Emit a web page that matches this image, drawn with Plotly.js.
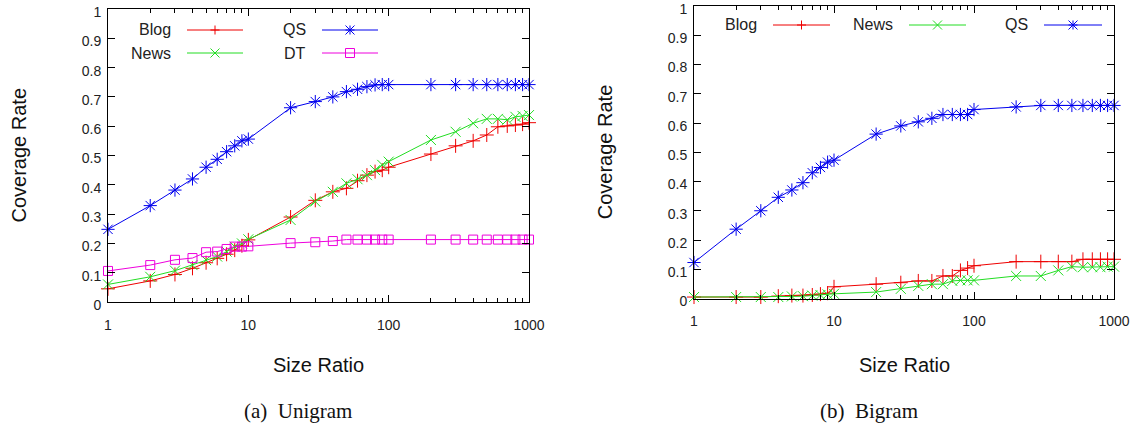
<!DOCTYPE html>
<html>
<head>
<meta charset="utf-8">
<script src="https://cdn.plot.ly/plotly-3.0.1.min.js"></script>
<style>html,body{margin:0;padding:0;background:#fff;}#chart{width:1135px;height:432px;}</style>
</head>
<body>
<div id="chart"></div>
<script>
// ---------- data ----------
const sizeRatio = [1,2,3,4,5,6,7,8,9,10,20,30,40,50,60,70,80,90,100,200,300,400,500,600,700,800,900,1000];

// (a) Unigram
const uniBlog = [0.045,0.072,0.094,0.115,0.134,0.149,0.163,0.177,0.192,0.212,0.290,0.347,0.376,0.388,0.414,0.433,0.445,0.450,0.460,0.505,0.533,0.550,0.570,0.598,0.601,0.604,0.607,0.612];
const uniNews = [0.060,0.086,0.107,0.126,0.143,0.155,0.172,0.189,0.200,0.214,0.280,0.343,0.376,0.405,0.419,0.433,0.450,0.468,0.479,0.553,0.581,0.610,0.625,0.625,0.622,0.632,0.635,0.638];
const uniQS   = [0.248,0.329,0.382,0.420,0.460,0.487,0.513,0.533,0.550,0.556,0.663,0.684,0.700,0.718,0.726,0.735,0.741,0.742,0.742,0.742,0.742,0.742,0.742,0.742,0.742,0.742,0.742,0.742];
const uniDT   = [0.106,0.126,0.144,0.150,0.170,0.172,0.181,0.189,0.189,0.190,0.201,0.204,0.208,0.213,0.213,0.213,0.213,0.213,0.213,0.213,0.213,0.213,0.213,0.213,0.213,0.213,0.213,0.213];

// (b) Bigram
const biBlog = [0.005,0.005,0.005,0.008,0.010,0.010,0.012,0.015,0.018,0.040,0.049,0.054,0.060,0.060,0.077,0.077,0.096,0.104,0.112,0.126,0.126,0.126,0.126,0.134,0.134,0.134,0.134,0.134];
const biNews = [0.005,0.005,0.005,0.005,0.007,0.008,0.010,0.012,0.014,0.016,0.022,0.033,0.043,0.049,0.049,0.060,0.062,0.062,0.062,0.077,0.077,0.096,0.109,0.107,0.107,0.107,0.109,0.109];
const biQS   = [0.123,0.237,0.300,0.346,0.371,0.396,0.430,0.448,0.466,0.473,0.562,0.590,0.604,0.616,0.629,0.629,0.629,0.629,0.646,0.655,0.660,0.660,0.660,0.660,0.660,0.660,0.660,0.660];

// tick labels
const xTickVals = [1,10,100,1000];
const xTickText = ['1','10','100','1000'];
const xMinorVals = [2,3,4,5,6,7,8,9,20,30,40,50,60,70,80,90,200,300,400,500,600,700,800,900];
const yTickVals = [0,0.1,0.2,0.3,0.4,0.5,0.6,0.7,0.8,0.9,1];
const yTickText = ['0','0.1','0.2','0.3','0.4','0.5','0.6','0.7','0.8','0.9','1'];

const seriesNames = ['Blog','News','QS','DT'];
const captions = ['(a)&nbsp;&nbsp;Unigram','(b)&nbsp;&nbsp;Bigram'];
const xTitle = 'Size Ratio';
const yTitle = 'Coverage Rate';

// ---------- styles ----------
const W = 1135, H = 432;
const colors = {Blog:'#ee0000', News:'#22dd22', QS:'#0000ee', DT:'#ee00dd'};
const symbols = {Blog:'cross-thin-open', News:'x-thin-open', QS:'asterisk-open', DT:'square-open'};
const msizes = {Blog:10, News:10, QS:11, DT:9};
const SANS = 'Liberation Sans, Arial, sans-serif';
const SERIF = 'Liberation Serif, Times New Roman, serif';

const px = x => x / W;
const py = y => 1 - y / H;

// plot areas in pixels
const boxes = [
  {l:108, r:529, t:9,  b:302},
  {l:694, r:1114, t:6, b:298.5}
];

function trace(name, y, ax) {
  return {
    x: sizeRatio, y: y, name: name, type: 'scatter', mode: 'lines+markers',
    xaxis: ax === 0 ? 'x' : 'x2', yaxis: ax === 0 ? 'y' : 'y2',
    line: {color: colors[name], width: 1},
    marker: {symbol: symbols[name], size: msizes[name], color: colors[name], line: {color: colors[name], width: 1}},
    showlegend: false, cliponaxis: false
  };
}

const data = [
  trace('Blog', uniBlog, 0), trace('News', uniNews, 0), trace('QS', uniQS, 0), trace('DT', uniDT, 0),
  trace('Blog', biBlog, 1), trace('News', biNews, 1), trace('QS', biQS, 1)
];

function xAxis(i) {
  const b = boxes[i];
  return {
    type: 'log', range: [0, 3], domain: [px(b.l), px(b.r)], anchor: i === 0 ? 'y' : 'y2',
    tickmode: 'array', tickvals: xTickVals, ticktext: xTickText,
    ticks: 'inside', ticklen: 7, tickwidth: 1, tickcolor: '#000',
    minor: {tickmode: 'array', tickvals: xMinorVals, ticks: 'inside', ticklen: 4, tickwidth: 1, tickcolor: '#000', showgrid: false},
    showline: true, linecolor: '#000', linewidth: 1, mirror: 'ticks',
    showgrid: false, zeroline: false, ticklabelstandoff: 10, ticklabeloverflow: 'allow',
    tickfont: {family: SANS, size: 14, color: '#222'}
  };
}
function yAxis(i) {
  const b = boxes[i];
  return {
    range: [0, 1], domain: [py(b.b), py(b.t)], anchor: i === 0 ? 'x' : 'x2',
    tickmode: 'array', tickvals: yTickVals, ticktext: yTickText,
    ticks: 'inside', ticklen: 7, tickwidth: 1, tickcolor: '#000',
    showline: true, linecolor: '#000', linewidth: 1, mirror: 'ticks',
    showgrid: false, zeroline: false, ticklabelstandoff: 3, ticklabelshift: 3, ticklabeloverflow: 'allow',
    tickfont: {family: SANS, size: 14, color: '#222'}
  };
}

// ---------- custom gnuplot-style legend (text, then line sample with marker) ----------
const shapes = [];
const annotations = [];
function markerShape(name, cx, cy) {
  const c = colors[name];
  const s = 4.5;
  let path = '';
  const P = (x, y) => px(x) + ',' + py(y);
  if (name === 'Blog' || name === 'QS') path += 'M' + P(cx - s, cy) + 'L' + P(cx + s, cy) + 'M' + P(cx, cy - s) + 'L' + P(cx, cy + s);
  if (name === 'News' || name === 'QS') path += 'M' + P(cx - s, cy - s) + 'L' + P(cx + s, cy + s) + 'M' + P(cx - s, cy + s) + 'L' + P(cx + s, cy - s);
  if (name === 'DT') path += 'M' + P(cx - s, cy - s) + 'L' + P(cx + s, cy - s) + 'L' + P(cx + s, cy + s) + 'L' + P(cx - s, cy + s) + 'Z';
  shapes.push({type: 'path', xref: 'paper', yref: 'paper', path: path, line: {color: c, width: 1}});
}
function legendEntry(name, textRight, lineL, lineR, y) {
  annotations.push({xref: 'paper', yref: 'paper', x: px(textRight), y: py(y), xanchor: 'right', yanchor: 'middle',
    text: name, showarrow: false, font: {family: SANS, size: 16, color: '#222'}});
  shapes.push({type: 'line', xref: 'paper', yref: 'paper', x0: px(lineL), x1: px(lineR), y0: py(y), y1: py(y),
    line: {color: colors[name], width: 1}});
  markerShape(name, (lineL + lineR) / 2, y);
}
legendEntry(seriesNames[0], 173, 187, 243, 30);
legendEntry(seriesNames[1], 173, 187, 243, 53);
legendEntry(seriesNames[2], 308, 322, 378, 30);
legendEntry(seriesNames[3], 308, 322, 378, 53);
legendEntry(seriesNames[0], 759, 773, 830, 25);
legendEntry(seriesNames[1], 895, 909, 966, 25);
legendEntry(seriesNames[2], 1030, 1044, 1102, 25);

// axis titles and captions
[[0, 318.5, 18, 298], [1, 904, 605, 869]].forEach(([i, cx, yx, capx]) => {
  const b = boxes[i];
  annotations.push({xref: 'paper', yref: 'paper', x: px(cx), y: py(365), xanchor: 'center', yanchor: 'middle',
    text: xTitle, showarrow: false, font: {family: SANS, size: 20, color: '#111'}});
  annotations.push({xref: 'paper', yref: 'paper', x: px(yx), y: py((b.t + b.b) / 2), xanchor: 'center', yanchor: 'middle',
    text: yTitle, textangle: -90, showarrow: false, font: {family: SANS, size: 20, color: '#111'}});
  annotations.push({xref: 'paper', yref: 'paper', x: px(capx), y: py(411), xanchor: 'center', yanchor: 'middle',
    text: captions[i], showarrow: false, font: {family: SERIF, size: 21, color: '#111'}});
});

const layout = {
  width: W, height: H, margin: {l: 0, r: 0, t: 0, b: 0},
  paper_bgcolor: '#fff', plot_bgcolor: '#fff', showlegend: false,
  xaxis: xAxis(0), yaxis: yAxis(0), xaxis2: xAxis(1), yaxis2: yAxis(1),
  shapes: shapes, annotations: annotations
};

Plotly.newPlot('chart', data, layout, {staticPlot: true, displayModeBar: false});
</script>
</body>
</html>
